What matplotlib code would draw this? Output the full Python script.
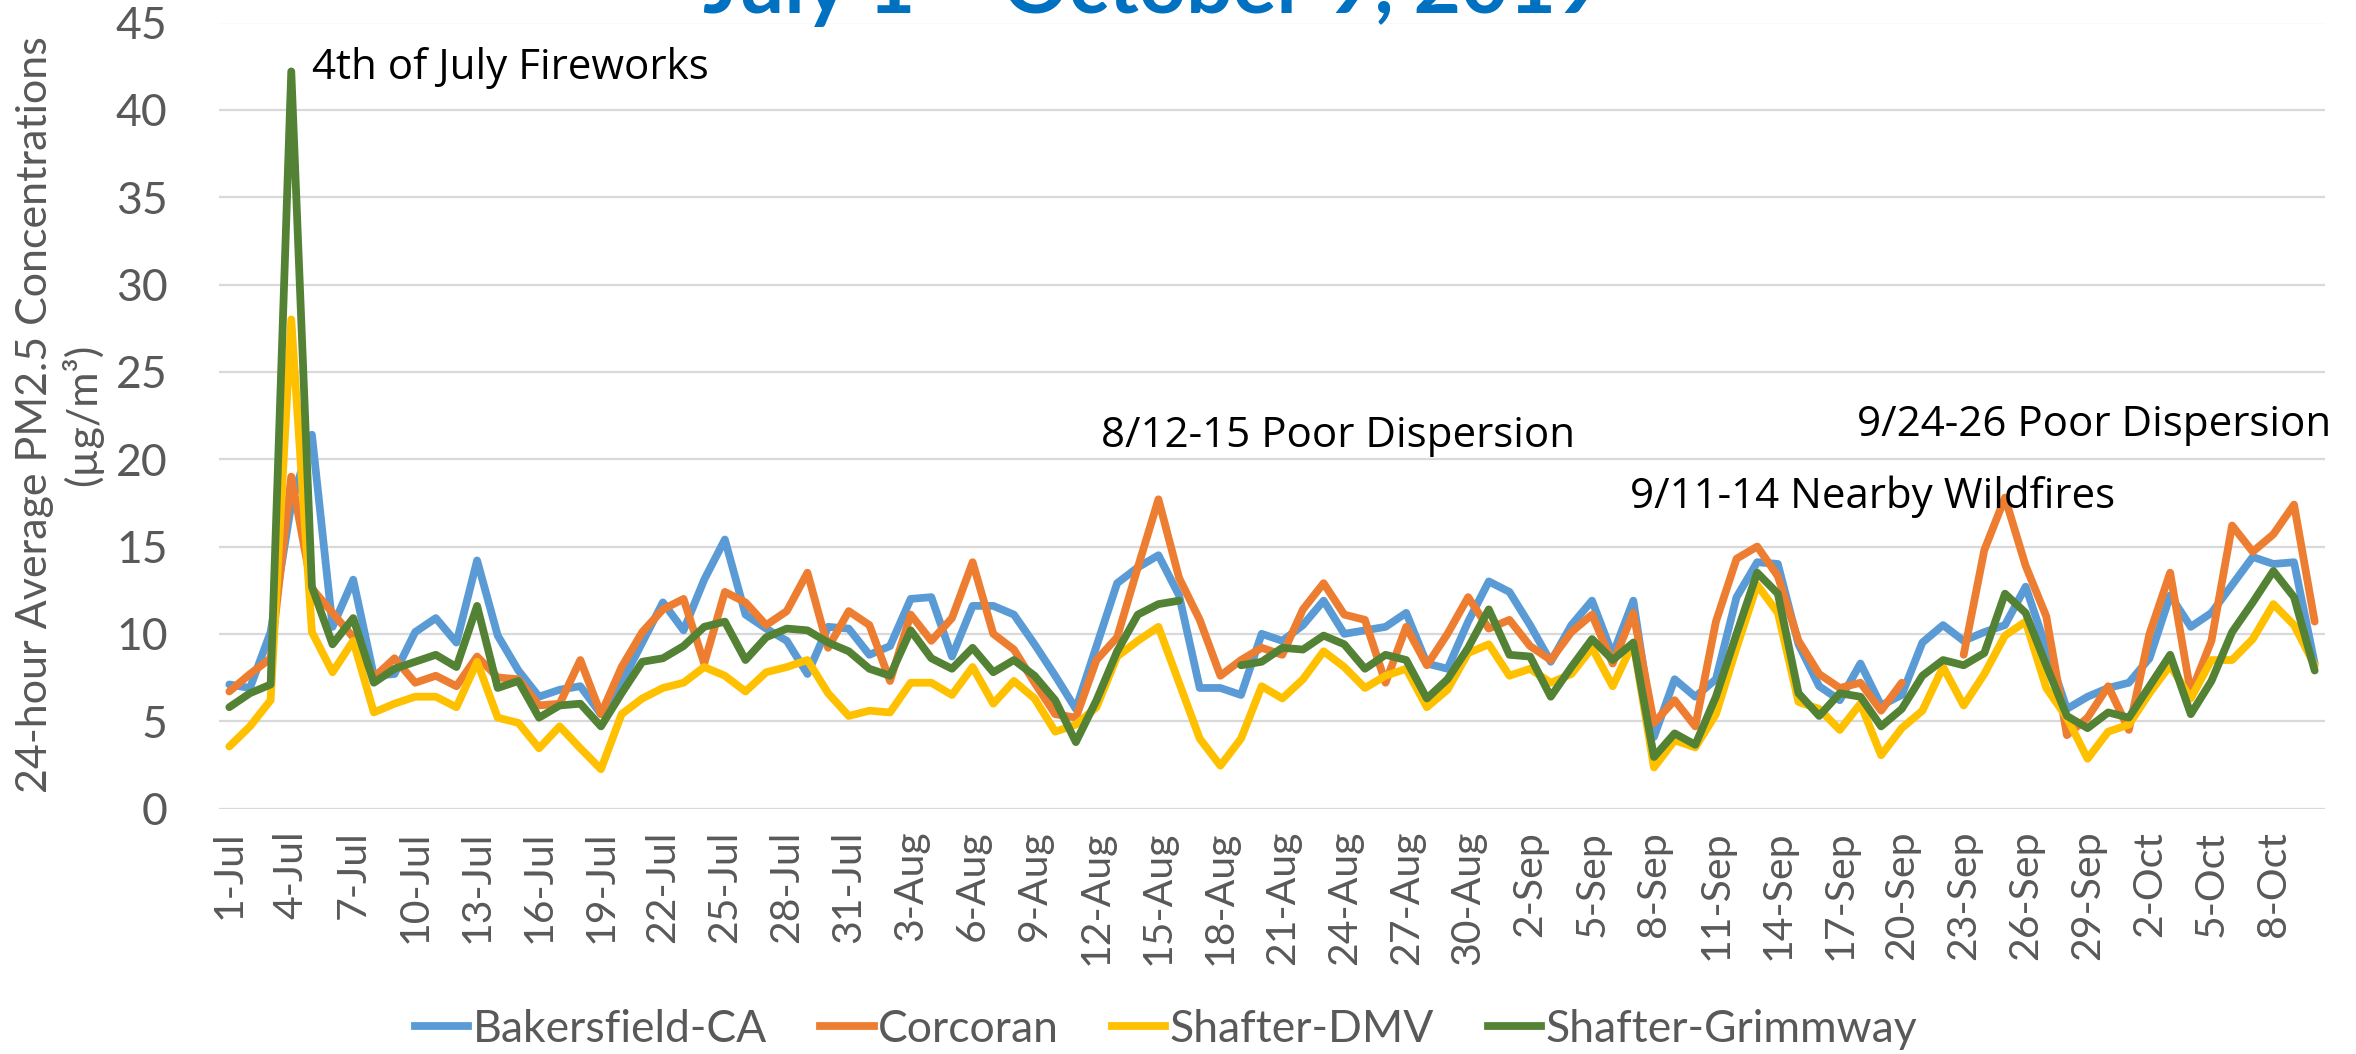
import numpy as np
import pandas as pd
import matplotlib
matplotlib.use("Agg")
import matplotlib.pyplot as plt
from matplotlib.lines import Line2D

# ---------------- data ----------------
dates = pd.date_range("2019-07-01", "2019-10-10", freq="D")
categories = [f"{d.day}-{d.strftime('%b')}" for d in dates]

bakersfield = [7.1, 6.9, 10.1, 17.4, 21.4, 10.4, 13.1, 7.6, 7.7, 10.1, 10.9, 9.5, 14.2, 9.9, 7.9, 6.4, 6.8, 7.0, 5.4, 7.2, 9.5, 11.8, 10.2, 13.1, 15.4, 11.1,
               10.3, 9.6, 7.7, 10.4, 10.3, 8.8, 9.3, 12.0, 12.1, 8.7, 11.6, 11.6, 11.1, 9.4, 7.6, 5.7, 9.3, 12.9, 13.8, 14.5, 12.2, 6.9, 6.9, 6.5, 10.0,
               9.6, 10.5, 11.9, 10.0, 10.2, 10.4, 11.2, 8.3, 8.0, 10.7, 13.0, 12.4, 10.5, 8.4, 10.5, 11.9, 8.8, 11.9, 4.1, 7.4, 6.4, 7.4, 12.1, 14.1, 14.0,
               9.4, 7.0, 6.2, 8.3, 5.9, 6.5, 9.5, 10.5, 9.6, 10.1, 10.5, 12.7, 9.2, 5.7, 6.4, 6.9, 7.2, 8.6, 12.2, 10.4, 11.2, 12.8, 14.4, 14.0, 14.1, 8.3]

corcoran = [6.7, 7.7, 8.6, 19.0, 12.6, 11.2, 9.8, 7.5, 8.6, 7.2, 7.6, 7.0, 8.7, 7.5, 7.4, 5.9, 6.0, 8.5, 5.4, 8.1, 10.1, 11.4, 12.0, 8.3, 12.4, 11.8,
            10.5, 11.3, 13.5, 9.2, 11.3, 10.5, 7.3, 11.1, 9.6, 10.9, 14.1, 10.0, 9.1, 7.2, 5.4, 5.2, 8.5, 9.8, 13.8, 17.7, 13.2, 10.8, 7.6, 8.5, 9.2,
            8.8, 11.4, 12.9, 11.1, 10.8, 7.2, 10.4, 8.2, 10.0, 12.1, 10.3, 10.8, 9.3, 8.5, 10.1, 11.1, 8.3, 11.2, 4.9, 6.2, 4.7, 10.7, 14.3, 15.0, 13.3,
            9.6, 7.7, 6.9, 7.2, 5.6, 7.2, np.nan, np.nan, 8.8, 14.8, 17.8, 13.9, 11.0, 4.2, 5.2, 7.0, 4.5, 10.0, 13.5, 6.6, 9.6, 16.2, 14.7, 15.7, 17.4, 10.7]

shafter_dmv = [3.55, 4.7, 6.2, 28.0, 10.1, 7.8, 9.6, 5.5, 6.0, 6.4, 6.4, 5.8, 8.4, 5.2, 4.9, 3.45, 4.7, 3.45, 2.25, 5.4, 6.3, 6.9, 7.2, 8.1, 7.6, 6.7,
               7.8, 8.1, 8.5, 6.6, 5.3, 5.6, 5.5, 7.2, 7.2, 6.5, 8.1, 6.0, 7.3, 6.3, 4.4, 4.8, 5.8, 8.7, 9.6, 10.4, 7.2, 4.0, 2.45, 4.0, 7.0,
               6.3, 7.4, 9.0, 8.1, 6.9, 7.6, 8.0, 5.8, 6.8, 8.9, 9.4, 7.6, 8.0, 7.2, 7.7, 9.2, 7.0, 9.5, 2.35, 3.9, 3.5, 5.4, 9.2, 12.8, 11.2,
               6.1, 5.7, 4.5, 6.0, 3.05, 4.6, 5.6, 8.1, 5.9, 7.7, 9.9, 10.7, 6.9, 5.2, 2.85, 4.4, 4.8, 6.6, 8.2, 6.3, 8.5, 8.5, 9.7, 11.7, 10.5, 8.2]

shafter_grimmway = [5.8, 6.6, 7.1, 42.2, 12.7, 9.4, 10.9, 7.2, 8.0, 8.4, 8.8, 8.1, 11.6, 6.9, 7.3, 5.2, 5.9, 6.0, 4.7, 6.6, 8.4, 8.6, 9.3, 10.4, 10.7, 8.5,
                    9.8, 10.3, 10.2, 9.5, 9.0, 8.0, 7.6, 10.2, 8.6, 8.0, 9.2, 7.8, 8.5, 7.6, 6.2, 3.8, 6.2, 9.0, 11.1, 11.7, 11.9, np.nan, np.nan, 8.2, 8.4,
                    9.2, 9.1, 9.9, 9.4, 8.0, 8.8, 8.5, 6.3, 7.4, 9.2, 11.4, 8.8, 8.7, 6.4, 8.1, 9.7, 8.5, 9.5, 2.95, 4.3, 3.65, 6.4, 10.0, 13.5, 12.3,
                    6.6, 5.3, 6.6, 6.4, 4.7, 5.7, 7.6, 8.5, 8.2, 8.9, 12.3, 11.2, 8.2, 5.3, 4.6, 5.5, 5.2, 7.0, 8.8, 5.4, 7.3, 10.1, 11.8, 13.6, 12.1, 7.9]

series_names = ["Bakersfield-CA", "Corcoran", "Shafter-DMV", "Shafter-Grimmway"]
series_values = [bakersfield, corcoran, shafter_dmv, shafter_grimmway]
series_colors = ["#5B9BD5", "#ED7D31", "#FFC000", "#548235"]

tick_positions = list(range(0, len(categories), 3))
tick_labels = [categories[i] for i in tick_positions]

title_text = "July 1 \u2013 October 9, 2019"
ylabel_text = "24-hour Average PM2.5 Concentrations\n(\u00b5g/m\u00b3)"
annotations = [
    ("4th of July Fireworks", 312, 68),
    ("8/12-15 Poor Dispersion", 1101, 436),
    ("9/11-14 Nearby Wildfires", 1630, 497),
    ("9/24-26 Poor Dispersion", 1857, 425),
]

# ---------------- figure ----------------
W, H = 2356, 1054
fig = plt.figure(figsize=(W / 100, H / 100), dpi=100)
fig.patch.set_facecolor("white")

left, right, top, bottom = 219, 2325, 22.5, 808.5
ax = fig.add_axes([left / W, 1 - bottom / H, (right - left) / W, (bottom - top) / H])

x = np.arange(len(categories))
for name, vals, col in zip(series_names, series_values, series_colors):
    ax.plot(x, vals, color=col, lw=5.6, solid_joinstyle="round", solid_capstyle="round", label=name)

ax.set_xlim(-0.5, len(categories) - 0.5)
ax.set_ylim(0, 45)
ax.set_yticks(np.arange(0, 46, 5))
ax.yaxis.grid(True, color="#D9D9D9", lw=1.6)
ax.set_axisbelow(True)
for s in ax.spines.values():
    s.set_visible(False)

tick_font = "Lato"
gray = "#595959"
ax.set_xticks(tick_positions)
ax.set_xticklabels(tick_labels, rotation=90, fontsize=29.5, color=gray, family=tick_font)
ax.tick_params(axis="x", length=0, pad=16)
ax.tick_params(axis="y", length=0, pad=37, labelsize=32, labelcolor=gray)
for lbl in ax.get_yticklabels():
    lbl.set_family(tick_font)

# y label
fig.text(60 / W, 1 - 415 / H, ylabel_text, rotation=90, ha="center", va="center",
         fontsize=31, color=gray, family=tick_font, linespacing=1.2, multialignment="center")

# title (cut off at top like the reference)
fig.text(1153 / W, 1 - 13 / H, title_text, ha="center", va="baseline",
         fontsize=59, color="#0070C0", family="Lato", fontweight="bold")

# annotations
for txt, px, py in annotations:
    fig.text(px / W, 1 - py / H, txt, ha="left", va="center", fontsize=30.3,
             color="black", family="Open Sans")

# legend
handles = [Line2D([0], [0], color=c, lw=5.6) for c in series_colors]
fig.legend(handles, series_names, loc="center", bbox_to_anchor=(1166 / W, 1 - 1029 / H),
           ncol=4, frameon=False, handlelength=1.2, handletextpad=0.1, columnspacing=1.2,
           prop={"family": tick_font, "size": 32}, labelcolor=gray)

fig.savefig("out.png", dpi=100, facecolor="white")
